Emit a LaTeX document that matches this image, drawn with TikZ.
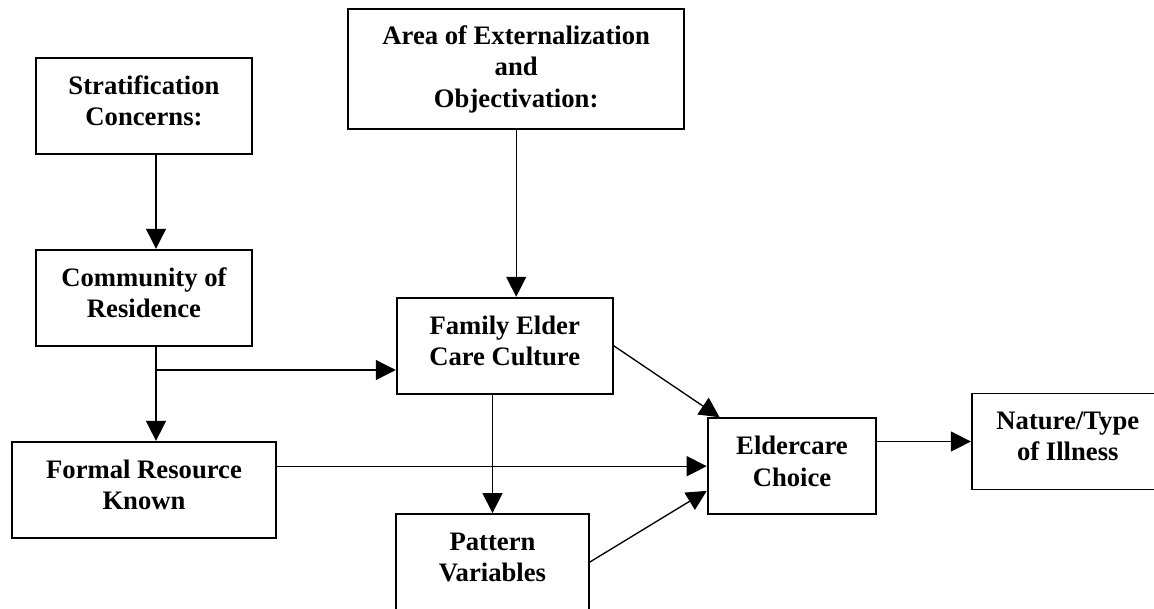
\documentclass[tikz,border=0pt]{standalone}
\usepackage{fontspec}
\setmainfont{Liberation Serif}
\usepackage{tikz}
\usetikzlibrary{positioning}
\usetikzlibrary{arrows.meta}

\tikzset{
  box/.style={draw, line width=1.4pt, align=center, inner sep=0pt,
    font=\bfseries\fontsize{20}{23.5}\selectfont, minimum height=72pt},
  link/.style={line width=1pt, -{Triangle[length=15pt,width=15pt]}}
}
\newcommand{\lift}{\rule[-7.5pt]{0pt}{7.5pt}}

\begin{document}
\begin{tikzpicture}[x=0.75pt, y=-0.75pt]
\useasboundingbox (0,0) rectangle (1154,608);

\node[box, minimum width=162.5pt] (strat) at (144,105.7) {Stratification\\Concerns:\lift};
\node[box, minimum width=162.5pt] (comm) at (144,297.7) {Community of\\Residence\lift};
\node[box, minimum width=198.5pt] (formal) at (144,489.8) {Formal Resource\\Known\lift};
\node[box, minimum width=251.8pt, minimum height=90pt] (area) at (516.2,69.3) {Area of Externalization\\and\\Objectivation:};
\node[box, minimum width=162pt] (fam) at (504.7,345.7) {Family Elder\\Care Culture\lift};
\node[box, minimum width=144.7pt] (pat) at (492.5,562) {Pattern\\Variables\lift};
\node[box, minimum width=126.5pt] (elder) at (792,466.2) {Eldercare\\Choice\lift};
\node[box, minimum width=144pt] (nature) at (1067.8,441.5) {Nature/Type\\of Illness\lift};

\coordinate (trunk) at (156,0);
\coordinate (split) at (156,370);

\draw[link] (strat.south -| trunk) -- (comm.north -| trunk);
\draw[link] (comm.south -| trunk) -- (formal.north -| trunk);
\draw[link] (split) -- (split -| fam.west);
\draw[link] (area.south) -- (area.south |- fam.north);
\draw[link] (fam.south -| pat.north) -- (pat.north);
\draw[link] (fam.east) -- (elder);
\draw[link] (elder.west -| formal.east) -- (elder.west);
\draw[link] (pat.east) -- ([yshift=-18.5pt]elder.west);
\draw[link] (nature.west -| elder.east) -- (nature.west);
\end{tikzpicture}
\end{document}
